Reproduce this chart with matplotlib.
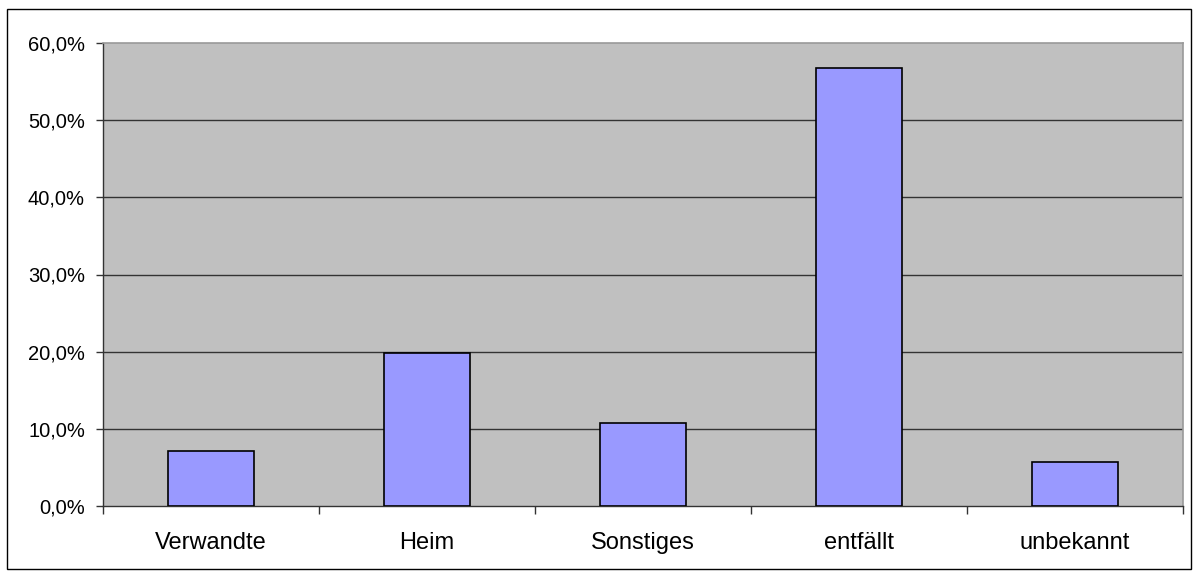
import matplotlib.pyplot as plt
import numpy as np
from matplotlib.patches import Rectangle
from matplotlib.ticker import FuncFormatter, FixedLocator

plt.rcParams['font.family'] = ['Liberation Sans', 'DejaVu Sans']

categories = ['Verwandte', 'Heim', 'Sonstiges', 'entfällt', 'unbekannt']
values = [7.1, 19.8, 10.7, 56.7, 5.7]
yticks = [0, 10, 20, 30, 40, 50, 60]

fig = plt.figure(figsize=(11.94, 5.76), dpi=100)
# outer chart border
fig.patches.append(Rectangle((7 / 1194, 7 / 576), 1184 / 1194, 560 / 576,
                             transform=fig.transFigure, fill=False,
                             edgecolor='black', linewidth=1.0))

ax = fig.add_axes([103 / 1194, 1 - 506 / 576, 1080 / 1194, 463 / 576])
ax.set_facecolor('#C0C0C0')

x = np.arange(len(categories))
ax.bar(x, values, width=0.4, color='#9999FF', edgecolor='black', linewidth=1.2, zorder=3)

ax.set_xlim(-0.5, len(categories) - 0.5)
ax.set_ylim(0, 60)

for v in yticks[1:-1]:
    ax.axhline(v, color='#333333', linewidth=1.0, zorder=1)

ax.set_yticks(yticks)
ax.yaxis.set_major_formatter(FuncFormatter(lambda v, p: f'{v:.1f}%'.replace('.', ',')))
ax.xaxis.set_major_locator(FixedLocator(np.arange(-0.5, len(categories), 1.0)))
ax.xaxis.set_minor_locator(FixedLocator(x))
ax.set_xticklabels([])
ax.set_xticklabels(categories, minor=True)
ax.tick_params(axis='x', which='major', direction='out', length=6, width=1, color='#333333')
ax.tick_params(axis='x', which='minor', length=0, pad=19, labelsize=17)
ax.tick_params(axis='y', direction='out', length=5, width=1, color='#333333', labelsize=14.5, pad=8)

for s in ['top', 'right']:
    ax.spines[s].set_color('#999999')
    ax.spines[s].set_linewidth(1.2)
for s in ['left', 'bottom']:
    ax.spines[s].set_color('#333333')
    ax.spines[s].set_linewidth(1.0)

fig.savefig('out.png', dpi=100)
